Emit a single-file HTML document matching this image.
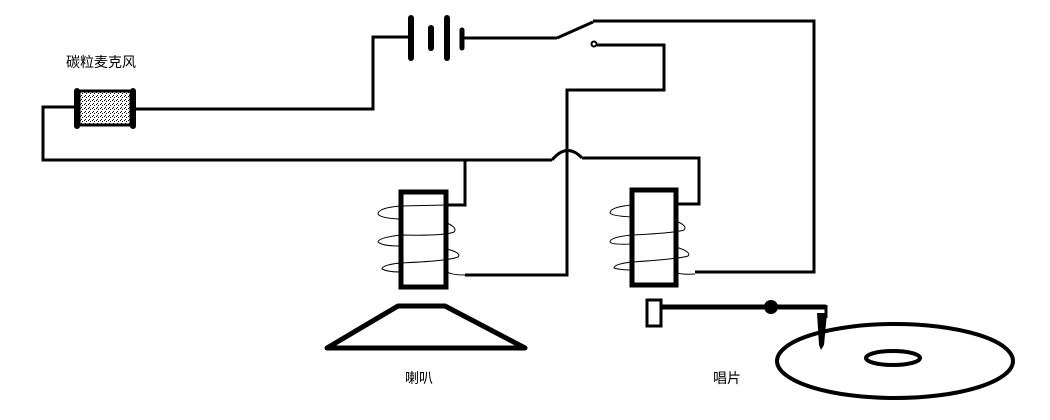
<!DOCTYPE html>
<html><head><meta charset="utf-8"><style>
html,body{margin:0;padding:0;background:#fff;width:1050px;height:420px;overflow:hidden}
svg{display:block}
text{font-family:"Liberation Sans","Noto Sans CJK SC",sans-serif;font-size:14px;fill:#000}
</style></head><body>
<svg width="1050" height="420" viewBox="0 0 1050 420">
<defs><pattern id="dots" width="4" height="4" patternUnits="userSpaceOnUse"><rect width="4" height="4" fill="#fff"/><rect x="0" y="0" width="1" height="1" fill="#000"/><rect x="2" y="1" width="1" height="1" fill="#000"/><rect x="1" y="3" width="1" height="1" fill="#000"/></pattern></defs>
<g fill="none" stroke="#000" stroke-width="3">
<polyline points="77,107 43,107 43,160 552,160"/>
<path d="M552,160 Q567,142 582,158"/>
<polyline points="582,158 699,158 699,204 677,204"/>
<polyline points="133,109 373,109 373,37 410,37"/>
<line x1="461" y1="38" x2="557" y2="38"/>
<line x1="557" y1="38" x2="593" y2="22"/>
<polyline points="593,21 814,21 814,272 695,272"/>
<polyline points="597,45 664,45 664,90 567,90 567,275 465,275"/>
<polyline points="465,160 465,205 447,205"/>
<rect x="79" y="91" width="52" height="34" fill="url(#dots)" stroke-width="3"/>
<rect x="401" y="192" width="45" height="95" stroke-width="5"/>
<rect x="632" y="190" width="44" height="95" stroke-width="5"/>
<polygon points="398,306 445,306 525,348 327,348" stroke-width="5" stroke-linejoin="round"/>
<rect x="647" y="300" width="14" height="26" stroke-width="3"/>
<line x1="661" y1="307" x2="826" y2="307" stroke-width="5"/>
<line x1="826" y1="305" x2="826" y2="318"/>
<ellipse cx="895" cy="361" rx="118" ry="37" stroke-width="4"/>
<ellipse cx="893" cy="358" rx="27" ry="7" stroke-width="4"/>
<circle cx="594" cy="44" r="2.5" stroke-width="2"/>
</g>
<g stroke="#000" stroke-linecap="round">
<line x1="411" y1="18" x2="411" y2="58" stroke-width="6"/>
<line x1="431" y1="28" x2="431" y2="48" stroke-width="6"/>
<line x1="447" y1="18" x2="447" y2="58" stroke-width="6"/>
<line x1="462" y1="30" x2="462" y2="48" stroke-width="5"/>
<line x1="77" y1="91" x2="77" y2="126" stroke-width="6"/>
<line x1="133" y1="91" x2="133" y2="126" stroke-width="6"/>
</g>
<circle cx="771" cy="307" r="7" fill="#000"/>
<polygon points="817,313 827,313 824,345 821,350 819,345" fill="#000"/>
<g fill="none" stroke="#000" stroke-width="1">
<path d="M447,205 L400,206 Q378,208 378,214 Q380,218 400,219"/>
<path d="M447,223 Q458,228 454,232 Q445,236 400,235 Q378,238 378,242 Q382,246 400,246"/>
<path d="M447,249 Q462,253 458,257 Q448,261 400,263 Q382,265 382,269 Q388,272 400,272"/>
<path d="M447,272 Q452,275 465,275"/>
<path d="M632,205 Q610,207 610,213 Q612,216 632,217"/>
<path d="M676,221 Q688,226 684,230 Q675,233 632,235 Q610,237 610,242 Q612,245 632,244"/>
<path d="M676,247 Q692,252 688,256 Q678,259 632,262 Q614,264 614,268 Q620,270 632,270"/>
<path d="M676,272 Q680,275 695,274"/>
</g>
<text x="66" y="67">碳粒麦克风</text>
<text x="405" y="383">喇叭</text>
<text x="713" y="383">唱片</text>
</svg>
</body></html>
